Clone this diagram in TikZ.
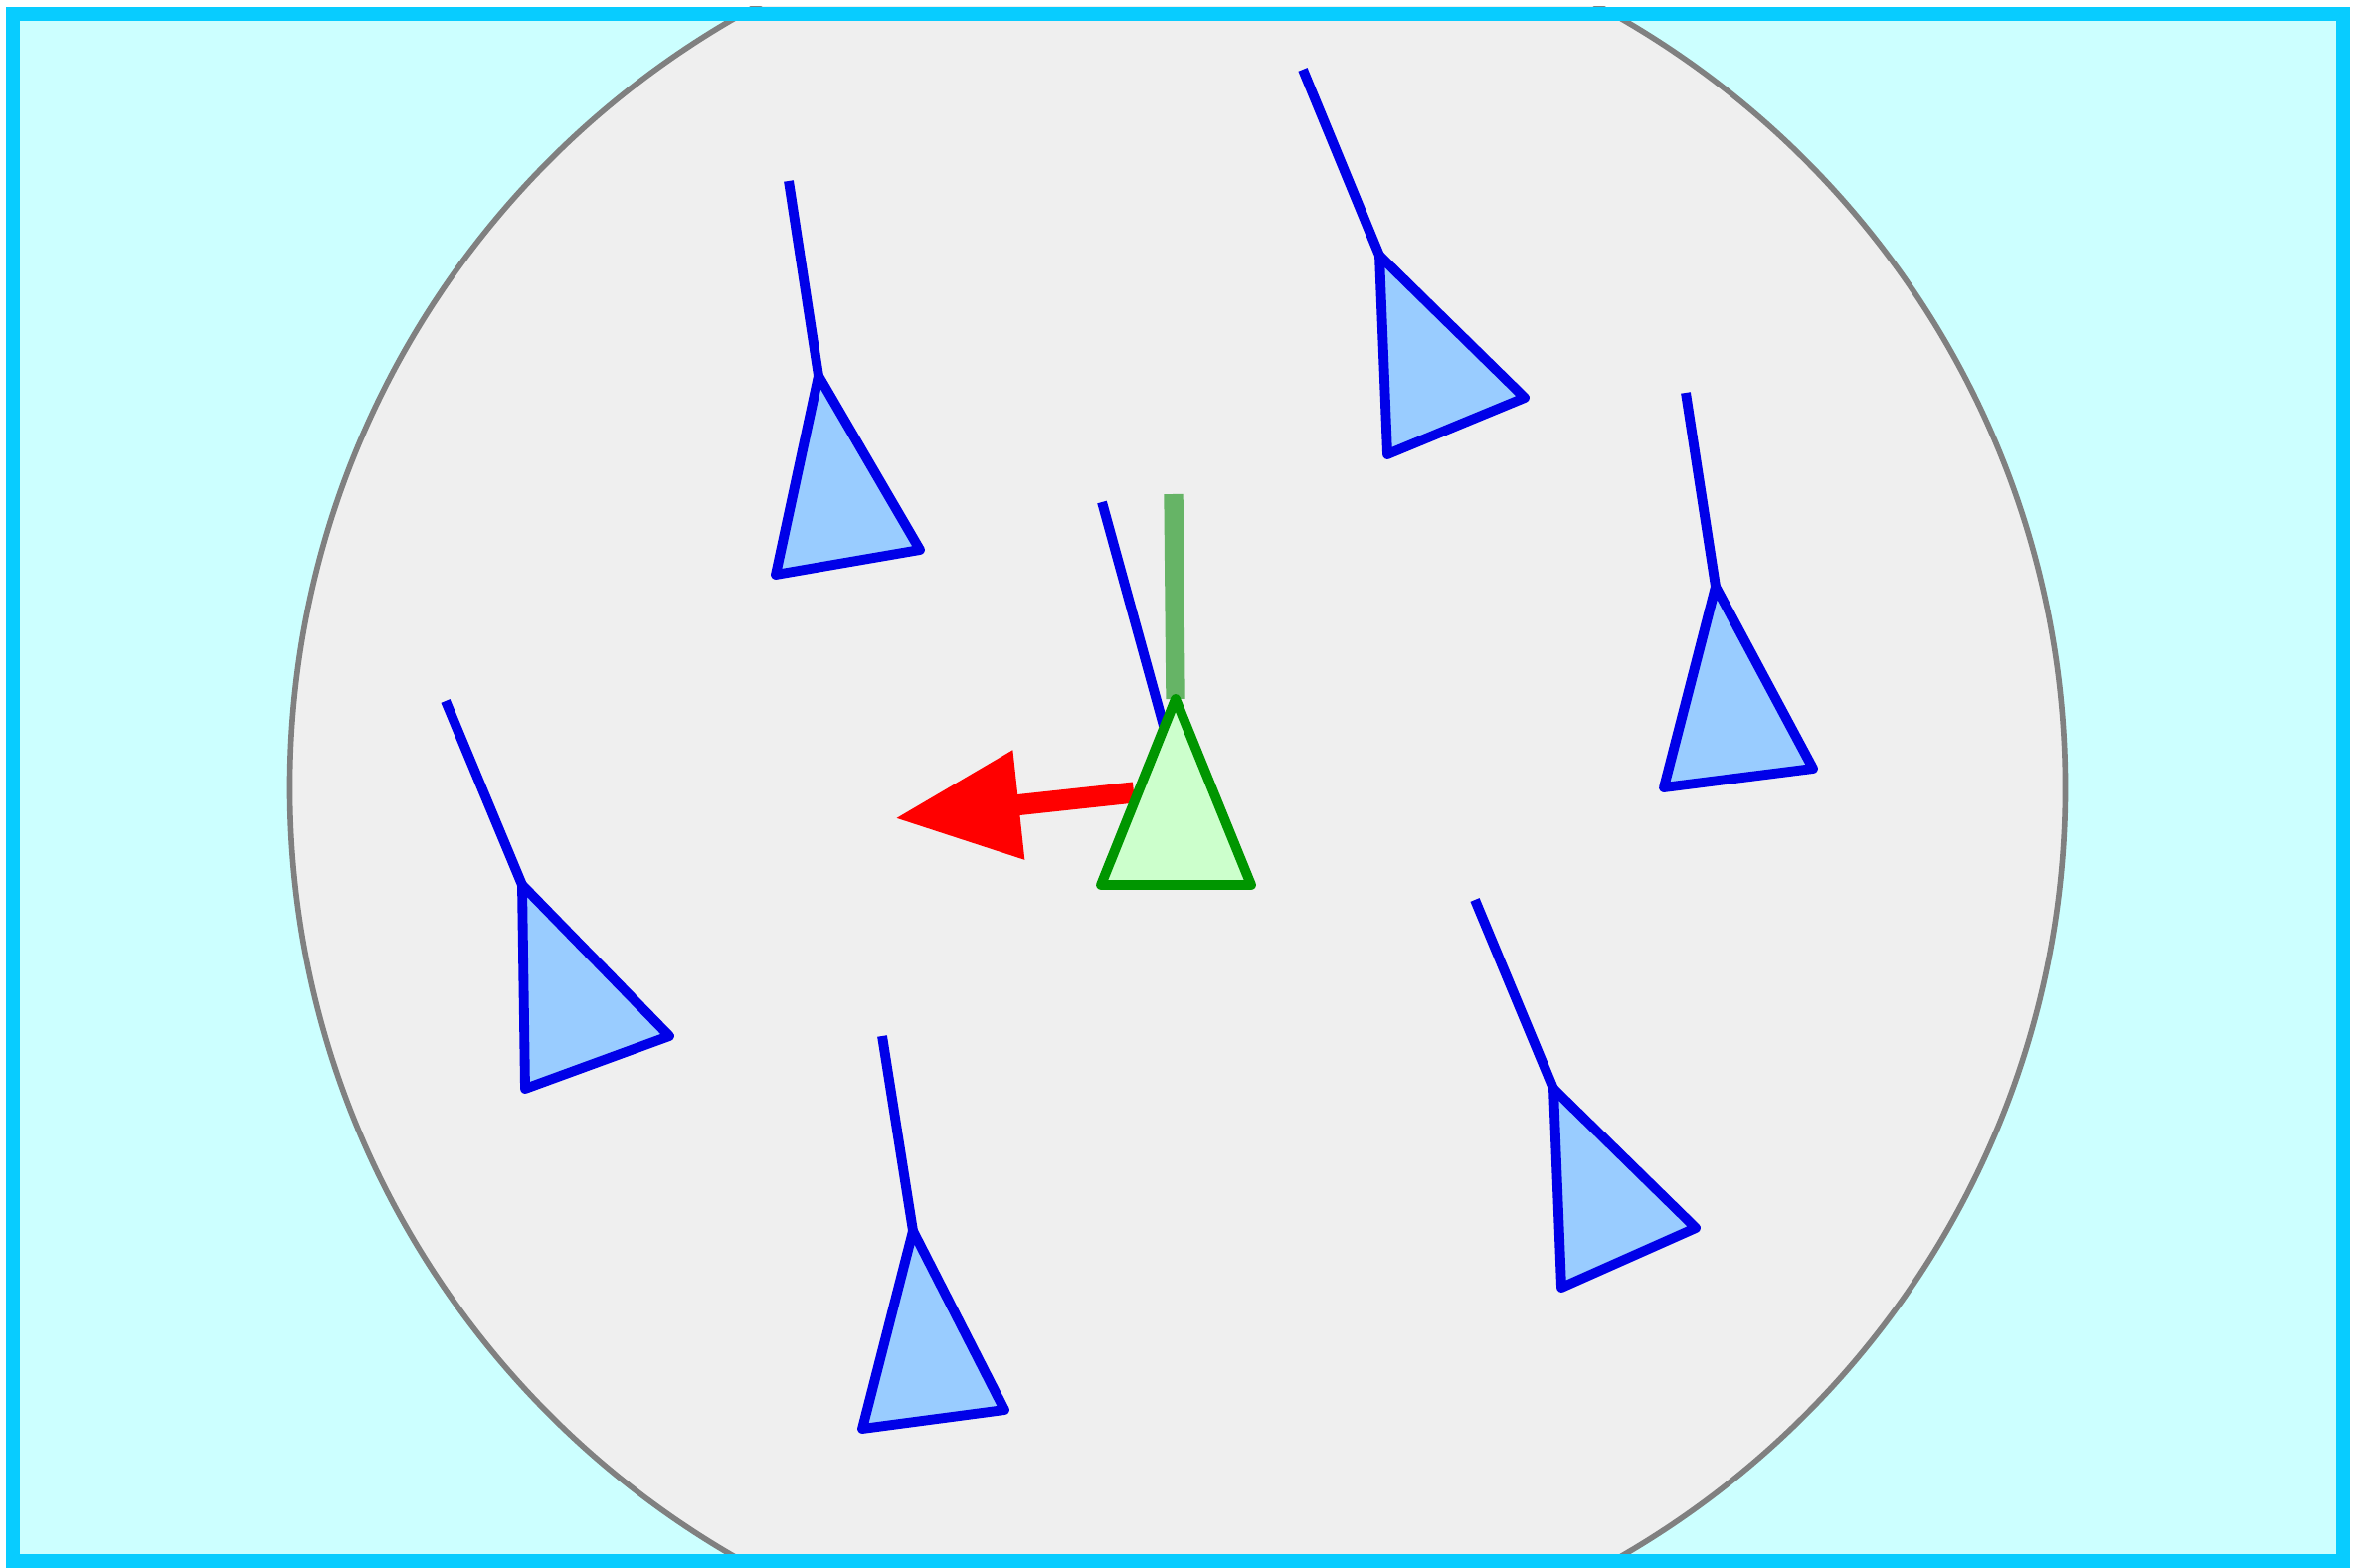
\documentclass[tikz,border=0pt]{standalone}
\usepackage{tikz}
\usetikzlibrary{arrows.meta}
\definecolor{bgcyan}{RGB}{204,255,255}
\definecolor{framecyan}{RGB}{8,204,255}
\definecolor{discgrey}{RGB}{239,239,239}
\definecolor{rimgrey}{RGB}{128,128,128}
\definecolor{boidfill}{RGB}{153,204,255}
\definecolor{boidline}{RGB}{0,0,232}
\definecolor{focalfill}{RGB}{204,255,204}
\definecolor{focalline}{RGB}{0,150,0}
\definecolor{headline}{RGB}{102,180,102}
\tikzset{
    % neighbours
    boid/.style={draw=boidline, fill=boidfill, line width=2.8pt, line join=round},
    boidtail/.style={draw=boidline, line width=2.8pt},
    % the boid in the middle
    focal/.style={draw=focalline, fill=focalfill, line width=2.8pt, line join=round},
    focalhead/.style={draw=headline, line width=5.5pt},
    % steering force
    force/.style={-{Triangle[length=1.25cm, width=1.05cm]}, red, line width=6pt}
}
\begin{document}
\begin{tikzpicture}[x=0.01cm, y=-0.01cm]
    \useasboundingbox (0,0) rectangle (2380,1577);
    % box
    \fill[bgcyan] (6,7) rectangle (2363,1577);
    \begin{scope}
        \clip (6,7) rectangle (2363,1577);
        \draw[rimgrey, fill=discgrey, line width=1.6pt] (1184,792) circle [radius=8.92cm];
    \end{scope}
    \draw[framecyan, line width=0.14cm] (13,14) rectangle (2356,1570);

    % boids
    \draw[boidtail] (793,182) -- (823,378);
    \draw[boid] (823,378) -- (780,578) -- (925,553) -- cycle;
    \draw[boidtail] (1310,70) -- (1387,257);
    \draw[boid] (1387,257) -- (1395,457) -- (1533,400) -- cycle;
    \draw[boidtail] (1695,395) -- (1725,590);
    \draw[boid] (1725,590) -- (1673,792) -- (1823,773) -- cycle;
    \draw[boidtail] (448,705) -- (525,890);
    \draw[boid] (525,890) -- (528,1095) -- (673,1042) -- cycle;
    \draw[boidtail] (887,1042) -- (918,1238);
    \draw[boid] (918,1238) -- (867,1437) -- (1010,1418) -- cycle;
    \draw[boidtail] (1483,905) -- (1562,1095);
    \draw[boid] (1562,1095) -- (1570,1295) -- (1705,1235) -- cycle;

    % focal boid
    \draw[boidtail] (1108,505) -- (1170,730);
    \draw[focalhead] (1180,497) -- (1182,703);
    \draw[force] (1140,797) -- (900,823);
    \draw[focal] (1182,703) -- (1107,890) -- (1258,890) -- cycle;

\end{tikzpicture}
\end{document}
